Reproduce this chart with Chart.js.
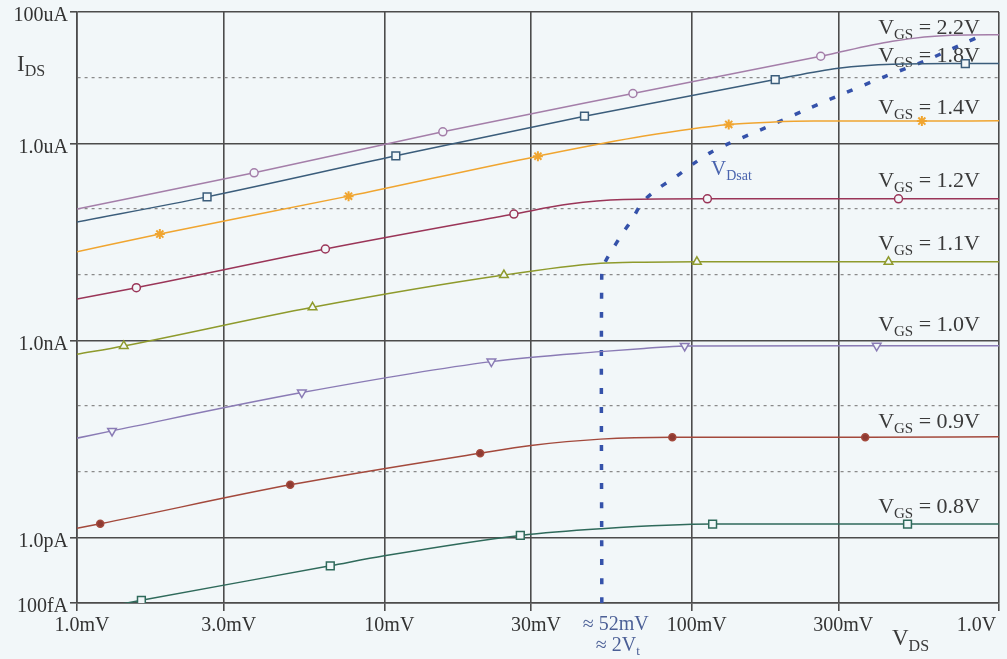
<!DOCTYPE html>
<html>
<head>
<meta charset="utf-8">
<script src="https://cdn.jsdelivr.net/npm/chart.js@4.4.1/dist/chart.umd.min.js"></script>
<style>
  html, body { margin: 0; padding: 0; background: #f2f7f9; }
  canvas { display: block; }
</style>
</head>
<body>
<canvas id="chart" width="1007" height="659"></canvas>
<script>
// Axis ticks (V_DS in volts, I_DS in amperes)
const xTickValues = [0.001, 0.003, 0.01, 0.03, 0.1, 0.3, 1];
const xTickLabels = ['1.0mV', '3.0mV', '10mV', '30mV', '100mV', '300mV', '1.0V'];
const yTickValues = [1e-13, 1e-12, 1e-11, 1e-10, 1e-9, 1e-8, 1e-7, 1e-6, 1e-5, 1e-4];
const yTickLabels = ['100fA', '1.0pA', '', '', '1.0nA', '', '', '1.0uA', '', '100uA'];

// Gate voltages of the family of curves
const vgsNames = ['2.2V', '1.8V', '1.4V', '1.2V', '1.1V', '1.0V', '0.9V', '0.8V'];

// I_DS vs V_DS for each V_GS; markN lists the samples that carry a marker
const vds22 = [0.001, 0.00377, 0.0155, 0.0644, 0.263, 0.45, 0.7, 1.0];
const ids22 = [1.0e-7, 3.56e-7, 1.5e-6, 5.74e-6, 2.12e-5, 3.59e-5, 4.43e-5, 4.5e-5];
const mark22 = [1, 2, 3, 4];

const vds18 = [0.001, 0.00265, 0.0109, 0.0448, 0.187, 0.3, 0.45, 0.777, 1.0];
const ids18 = [6.33e-8, 1.53e-7, 6.45e-7, 2.59e-6, 9.37e-6, 1.39e-5, 1.6e-5, 1.64e-5, 1.65e-5];
const mark18 = [1, 2, 3, 4, 7];

const vds14 = [0.001, 0.00186, 0.00765, 0.0316, 0.07, 0.132, 0.18, 0.25, 0.561, 1.0];
const ids14 = [2.23e-8, 4.15e-8, 1.57e-7, 6.38e-7, 1.29e-6, 1.94e-6, 2.1e-6, 2.18e-6, 2.18e-6, 2.2e-6];
const mark14 = [1, 2, 3, 5, 8];

const vds12 = [0.001, 0.00156, 0.00643, 0.0264, 0.04, 0.06, 0.1125, 0.471, 1.0];
const ids12 = [4.26e-9, 6.33e-9, 2.46e-8, 8.37e-8, 1.19e-7, 1.39e-7, 1.43e-7, 1.43e-7, 1.43e-7];
const mark12 = [1, 2, 3, 6, 7];

const vds11 = [0.001, 0.00142, 0.00584, 0.0245, 0.0505, 0.07, 0.104, 0.437, 1.0];
const ids11 = [6.14e-10, 8.22e-10, 3.19e-9, 9.88e-9, 1.49e-8, 1.55e-8, 1.57e-8, 1.57e-8, 1.57e-8];
const mark11 = [1, 2, 3, 6, 7];

const vds10 = [0.001, 0.0013, 0.00539, 0.0223, 0.0505, 0.07, 0.0949, 0.4, 1.0];
const ids10 = [3.24e-11, 4.18e-11, 1.6e-10, 4.74e-10, 6.73e-10, 7.52e-10, 8.22e-10, 8.25e-10, 8.3e-10];
const mark10 = [1, 2, 3, 6, 7];

const vds09 = [0.001, 0.00119, 0.00494, 0.0205, 0.03, 0.0505, 0.0865, 0.367, 1.0];
const ids09 = [1.38e-12, 1.61e-12, 6.3e-12, 1.91e-11, 2.5e-11, 3.13e-11, 3.35e-11, 3.35e-11, 3.4e-11];
const mark09 = [1, 2, 3, 6, 7];

const vds08 = [0.001, 0.00162, 0.00667, 0.01, 0.0277, 0.0505, 0.117, 0.504, 1.0];
const ids08 = [7.2e-14, 1.1e-13, 3.69e-13, 5.24e-13, 1.07e-12, 1.35e-12, 1.59e-12, 1.59e-12, 1.6e-12];
const mark08 = [1, 2, 4, 6, 7];

// Locus of the saturation voltage V_Dsat
const dsatV = [0.051, 0.051, 0.0523, 0.0545, 0.0591, 0.0641, 0.0694, 0.0779, 0.0887, 0.1017, 0.1147,
               0.1323, 0.1764, 0.2364, 0.3157, 0.423, 0.571, 0.775, 0.896];
const dsatI = [1e-13, 1.18e-8, 1.56e-8, 2.19e-8, 4.01e-8, 7.03e-8, 1.29e-7, 2.06e-7, 3.09e-7, 4.94e-7, 7.16e-7,
               9.96e-7, 1.78e-6, 3.28e-6, 5.86e-6, 1.03e-5, 1.78e-5, 3.38e-5, 4.54e-5];

const BG = '#f2f7f9';
const SERIF = '"Liberation Serif", "DejaVu Serif", serif';

function curve(vds, ids, marks, color, style, extra) {
  return Object.assign({
    data: vds.map((v, i) => ({ x: v, y: ids[i] })),
    borderColor: color,
    borderWidth: 1.5,
    cubicInterpolationMode: 'monotone',
    clip: 0,
    pointStyle: style,
    pointRadius: ctx => marks.includes(ctx.dataIndex) ? 4 : 0,
    pointBorderColor: color,
    pointBackgroundColor: BG,
    pointBorderWidth: 1.5,
    pointHoverRadius: 0,
    fill: false
  }, extra || {});
}

const datasets = [
  curve(vds22, ids22, mark22, '#a47ea9', 'circle'),
  curve(vds18, ids18, mark18, '#3b5d7b', 'rect', { pointRadius: ctx => mark18.includes(ctx.dataIndex) ? 5.5 : 0 }),
  curve(vds14, ids14, mark14, '#f0a530', 'star', { pointRadius: ctx => mark14.includes(ctx.dataIndex) ? 5 : 0, pointBorderWidth: 2 }),
  curve(vds12, ids12, mark12, '#9a3558', 'circle'),
  curve(vds11, ids11, mark11, '#8e9a2c', 'triangle', { pointRadius: ctx => mark11.includes(ctx.dataIndex) ? 5 : 0 }),
  curve(vds10, ids10, mark10, '#8a7bb5', 'triangle', { pointRadius: ctx => mark10.includes(ctx.dataIndex) ? 5 : 0, pointRotation: 180 }),
  curve(vds09, ids09, mark09, '#a3493c', 'circle', { pointRadius: ctx => mark09.includes(ctx.dataIndex) ? 3.5 : 0, pointBackgroundColor: '#8e3a32' }),
  curve(vds08, ids08, mark08, '#2f6a5b', 'rect', { pointRadius: ctx => mark08.includes(ctx.dataIndex) ? 5.5 : 0 }),
  {
    data: dsatV.map((v, i) => ({ x: v, y: dsatI[i] })),
    borderColor: '#3552aa',
    borderWidth: 3.5,
    borderDash: [6, 13],
    borderCapStyle: 'butt',
    tension: 0.3,
    pointRadius: 0,
    pointHoverRadius: 0,
    fill: false
  }
];

// Draws a run of text pieces (main text and subscripts) on one baseline
function drawRuns(ctx, runs, x, y, align, color) {
  ctx.save();
  ctx.fillStyle = color;
  ctx.textBaseline = 'alphabetic';
  ctx.textAlign = 'left';
  let total = 0;
  runs.forEach(r => { ctx.font = r.size + 'px ' + SERIF; r.w = ctx.measureText(r.t).width; total += r.w; });
  let cx = align === 'right' ? x - total : (align === 'center' ? x - total / 2 : x);
  runs.forEach(r => {
    ctx.font = r.size + 'px ' + SERIF;
    ctx.fillText(r.t, cx, y + (r.dy || 0));
    cx += r.w;
  });
  ctx.restore();
}

const vgsBaselines = [34, 62, 114, 187, 250, 331, 428, 513];

const annotations = {
  id: 'annotations',
  beforeDraw(chart) {
    const ctx = chart.ctx;
    ctx.save();
    ctx.fillStyle = BG;
    ctx.fillRect(0, 0, chart.width, chart.height);
    ctx.restore();
  },
  beforeDatasetsDraw(chart) {
    const ctx = chart.ctx;
    const right = chart.chartArea.right - 19;
    vgsNames.forEach((name, i) => {
      drawRuns(ctx, [
        { t: 'V', size: 22 },
        { t: 'GS', size: 15, dy: 5 },
        { t: ' = ' + name, size: 22 }
      ], right, vgsBaselines[i], 'right', '#3a3a3a');
    });
    // V_Dsat tag next to the locus
    drawRuns(ctx, [
      { t: 'V', size: 21 },
      { t: 'Dsat', size: 14, dy: 5 }
    ], 711, 175, 'left', '#4a64ae');
  },
  afterDraw(chart) {
    const ctx = chart.ctx;
    // axis titles
    drawRuns(ctx, [
      { t: 'I', size: 23 },
      { t: 'DS', size: 16, dy: 5 }
    ], 17, 71, 'left', '#3a3a3a');
    drawRuns(ctx, [
      { t: 'V', size: 23 },
      { t: 'DS', size: 16, dy: 6 }
    ], 892, 645, 'left', '#3a3a3a');
    // saturation voltage note under the axis
    const xs = chart.scales.x.getPixelForValue(0.051);
    drawRuns(ctx, [{ t: '\u2248 52mV', size: 20 }], xs + 14, 630, 'center', '#4b5f96');
    drawRuns(ctx, [
      { t: '\u2248 2V', size: 20 },
      { t: 't', size: 13, dy: 4 }
    ], xs + 16, 651, 'center', '#4b5f96');
  }
};

const gridDark = '#4c4c4c';
const gridDot = '#8a8a8a';

new Chart(document.getElementById('chart'), {
  type: 'line',
  data: { datasets },
  plugins: [annotations],
  options: {
    responsive: false,
    devicePixelRatio: 1,
    animation: false,
    events: [],
    layout: { padding: { top: 12, right: 8, left: 0, bottom: 0 } },
    plugins: { legend: { display: false }, tooltip: { enabled: false } },
    scales: {
      x: {
        type: 'logarithmic',
        min: 0.001,
        max: 1,
        afterBuildTicks: s => { s.ticks = xTickValues.map(v => ({ value: v })); },
        afterFit: s => { s.height = 56; s.paddingLeft = 0; s.paddingRight = 0; },
        ticks: {
          autoSkip: false,
          maxRotation: 0,
          padding: 3,
          labelOffset: 5,
          color: '#333',
          font: { family: SERIF, size: 20 },
          callback: (v, i) => i === xTickLabels.length - 1 ? xTickLabels[i] + '           ' : xTickLabels[i]
        },
        grid: { color: gridDark, lineWidth: 1.6, tickLength: 8, tickColor: gridDark },
        border: { display: true, color: gridDark, width: 1.6 }
      },
      y: {
        type: 'logarithmic',
        min: 1e-13,
        max: 1e-4,
        afterBuildTicks: s => { s.ticks = yTickValues.map(v => ({ value: v })); },
        afterFit: s => { s.width = 77; s.paddingTop = 0; s.paddingBottom = 0; },
        ticks: {
          autoSkip: false,
          padding: 2,
          labelOffset: 4,
          color: '#333',
          font: { family: SERIF, size: 20 },
          callback: (v, i) => yTickLabels[i]
        },
        grid: {
          color: ctx => (ctx.tick && yTickLabels[ctx.index] === '') ? gridDot : gridDark,
          lineWidth: ctx => (ctx.tick && yTickLabels[ctx.index] === '') ? 1.3 : 1.6,
          tickLength: 7,
          tickColor: ctx => (ctx.tick && yTickLabels[ctx.index] === '') ? 'rgba(0,0,0,0)' : gridDark
        },
        border: {
          display: true,
          color: gridDark,
          width: 1.6,
          dash: ctx => (ctx.tick && yTickLabels[ctx.index] === '') ? [3, 4] : []
        }
      }
    }
  }
});
</script>
</body>
</html>
